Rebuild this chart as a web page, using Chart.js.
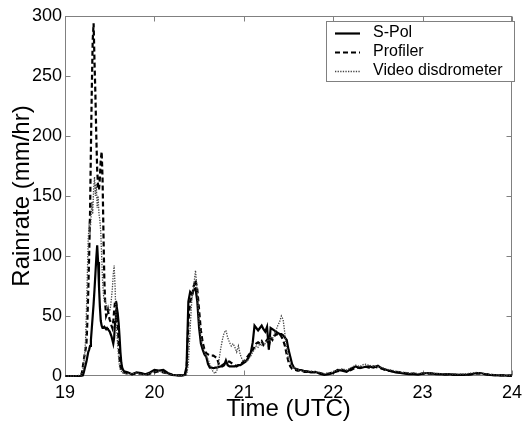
<!DOCTYPE html>
<html>
<head>
<meta charset="utf-8">
<script src="https://cdn.jsdelivr.net/npm/chart.js@4.4.0/dist/chart.umd.min.js"></script>
<style>
html,body{margin:0;padding:0;background:#fff;}
canvas{display:block;}
</style>
</head>
<body>
<canvas id="c" width="528" height="423"></canvas>
<script>
// ---- data (time in UTC hours) ----
const times = [
19.00,19.05,19.10,19.15,
19.18,19.19,19.20,19.21,19.22,19.23,19.24,19.25,19.26,19.27,
19.28,19.29,19.30,19.31,19.32,19.33,19.34,19.35,19.36,19.37,
19.38,19.39,19.40,19.41,19.42,19.43,19.44,19.45,19.46,19.47,
19.48,19.49,19.50,19.51,19.52,19.53,19.54,19.55,19.56,19.57,
19.58,19.59,19.60,19.61,19.62,19.63,19.64,19.65,19.66,
19.70,19.75,19.80,19.85,19.90,19.95,20.00,20.05,20.10,20.15,20.20,20.25,20.30,
20.32,20.34,20.36,20.38,20.40,20.42,20.44,20.46,20.48,20.50,
20.52,20.54,20.56,20.58,20.60,20.62,20.64,20.66,20.68,20.70,
20.72,20.74,20.76,20.78,20.80,20.82,20.84,20.86,20.88,20.90,
20.92,20.94,20.96,20.98,21.00,21.02,21.04,21.06,21.08,21.10,
21.12,21.14,21.16,21.18,21.20,21.22,21.24,21.26,21.28,21.30,
21.32,21.34,21.36,21.38,21.40,21.42,21.44,21.46,21.48,21.50,
21.52,21.54,21.56,21.58,21.60,21.62,21.64,21.66,21.68,21.70,
21.75,21.80,21.85,21.90,21.95,22.00,22.05,22.10,22.15,22.20,
22.25,22.30,22.35,22.40,22.45,22.50,22.55,22.60,22.65,22.70,
22.75,22.80,22.85,22.90,22.95,23.00,23.05,23.10,23.15,23.20,
23.25,23.30,23.35,23.40,23.45,23.50,23.55,23.60,23.65,23.70,
23.75,23.80,23.85,23.90,23.95,24.00
];

const spol = [
0,0,0,0,
0,0,0.5,3,6,9,12,16,20,22,
25,30,40,50,60,72,85,98,109,95,
75,58,46,42,40,40,41,40,39,40,
39,38,37,35,33,30,27,32,45,54,
57,52,44,33,20,11,7,5,4,
3,1.5,3,2.5,1.5,3,5,4.5,5,2.5,1,0.5,0.5,
0.5,1,8,62,70,68,72,73,62,40,
27,22,18,16,10,7,7,6.5,7,7,
7.5,8,8,9,13,9,8,8,8,8,
8.5,9,9,10,11,12,14,16,20,28,
42,40,38,40,42,39,37,41,22,40,
39,38,37,36,35,35,34,32,30,22,
16,10,7,6,5.5,5,5,4.5,4,4,
3,3.5,2,1,1.5,2.5,5,4.5,3.5,6,
8,6.5,7.5,8,7,8.5,6,5,4,3,
2.5,2,1.5,1.5,1.2,2,2.5,2.2,1.5,1.5,
1.2,1.5,1,1,1,1.2,1.5,2.5,2.5,1.5,
1,0.8,0.5,0.5,0.3,0.3
];

const profiler = [
0,0,0,0,
1,3,8,13,18,22,27,45,70,100,
135,190,240,280,294,262,235,200,172,158,
155,165,180,187,165,120,80,60,50,52,
55,50,47,45,42,40,45,55,62,63,
55,42,28,15,8,5,4,3,3,
2,1.5,2,2,1,2,3,4,3,2,1,0.5,0.5,
0.5,1,5,45,62,66,75,80,72,55,
38,28,22,19,18,17,17,17,16,15,
10,8,9,10,11,12,12,11,10,9,
8,9,10,11,12,14,16,18,20,22,
24,27,28,27,29,26,28,30,25,32,
30,33,35,34,35,33,30,25,18,12,
8,6,5,5,4.5,4.5,4,4,3.5,3.5,
3.5,3,2.5,1.5,2,3,4,5,4,5,
7,7,8,7,8,7,6,4.5,4,3.5,
3,2.5,2,2,1.5,2,2,2,1.8,1.5,
1.5,1.2,1.2,1,1,1,1.5,2,2,1.5,
1,0.8,0.6,0.5,0.4,0.3
];

const video = [
0,0,0,0.5,
0,2,5,10,18,30,55,85,115,125,
120,130,145,135,155,166,150,160,140,150,
135,130,120,100,80,68,62,63,60,57,
56,55,54,58,65,73,85,92,75,50,
36,25,15,8,5,4,3,3,2,
2,2,2.5,1.5,1,2.5,3.5,4,3,1.5,1,0.5,0.5,
0.5,0.5,1,10,40,65,75,88,70,45,
33,25,20,16,14,10,6,3,2,5,
12,22,30,36,38,32,28,25,27,24,
20,25,18,14,12,13,12,15,17,20,
22,25,24,27,25,28,27,30,29,33,
31,35,38,42,45,50,47,35,22,14,
10,8,7,6,5,5,4.5,4,4,4,
4,3.5,3,2,2.5,3.5,5,6,5,7,
9,8,10,9,8,8,7,5.5,5,4,
3.5,3,2.5,2.5,2,2.5,2.5,2.5,2,2,
1.8,1.8,1.5,1.5,1.5,2,2.5,3,2.5,2,
1.5,1,0.8,0.6,0.5,0.4
];

const seriesLabels = ['S-Pol', 'Profiler', 'Video disdrometer'];
const xTickValues = [19, 20, 21, 22, 23, 24];
const yTickValues = [0, 50, 100, 150, 200, 250, 300];

// ---- chart ----
const FONT = "'Liberation Sans', Arial, Helvetica, sans-serif";
Chart.defaults.font.family = FONT;
Chart.defaults.color = '#000';

const toPts = arr => arr.map((v, i) => ({x: times[i], y: v}));

const framePlugin = {
  id: 'frame',
  beforeDatasetsDraw(chart) {
    const {ctx, chartArea: a, scales: {x, y}} = chart;
    ctx.save();
    ctx.strokeStyle = '#808080';
    ctx.lineWidth = 1;
    const L = Math.round(a.left) + 0.5, R = Math.round(a.right) - 0.5;
    const T = Math.round(a.top) + 0.5, B = Math.round(a.bottom) - 0.5;
    ctx.strokeRect(L, T, R - L, B - T);
    ctx.beginPath();
    const tl = 5;
    xTickValues.forEach(v => {
      const px = Math.round(x.getPixelForValue(v)) + 0.5;
      ctx.moveTo(px, B); ctx.lineTo(px, B - tl);
      ctx.moveTo(px, T); ctx.lineTo(px, T + tl);
    });
    yTickValues.forEach(v => {
      const py = Math.round(y.getPixelForValue(v)) + 0.5;
      ctx.moveTo(L, py); ctx.lineTo(L + tl, py);
      ctx.moveTo(R, py); ctx.lineTo(R - tl, py);
    });
    ctx.stroke();
    ctx.restore();
  }
};

const legendPlugin = {
  id: 'boxLegend',
  afterDatasetsDraw(chart) {
    const {ctx} = chart;
    const bx = 326.5, by = 21.5, bw = 188, bh = 60;
    ctx.save();
    ctx.fillStyle = '#fff';
    ctx.fillRect(bx, by, bw, bh);
    ctx.strokeStyle = '#808080';
    ctx.lineWidth = 1;
    ctx.strokeRect(bx, by, bw, bh);
    ctx.font = '16px ' + FONT;
    ctx.textBaseline = 'middle';
    ctx.textAlign = 'left';
    chart.data.datasets.forEach((ds, i) => {
      const cy = 33 + i * 19;
      ctx.save();
      ctx.strokeStyle = ds.borderColor;
      ctx.lineWidth = ds.borderWidth;
      ctx.setLineDash(ds.borderDash || []);
      ctx.beginPath();
      ctx.moveTo(335, cy + 0.5);
      ctx.lineTo(360, cy + 0.5);
      ctx.stroke();
      ctx.restore();
      ctx.fillStyle = '#000';
      ctx.fillText(ds.label, 373, cy);
    });
    ctx.restore();
  }
};

new Chart(document.getElementById('c'), {
  type: 'line',
  data: {
    datasets: [
      {label: seriesLabels[0], data: toPts(spol), borderColor: '#000', borderWidth: 2.2,
       pointRadius: 0, tension: 0, fill: false, clip: 4, order: 2},
      {label: seriesLabels[1], data: toPts(profiler), borderColor: '#000', borderWidth: 2.2,
       borderDash: [5, 3], pointRadius: 0, tension: 0, fill: false, clip: 4, order: 1},
      {label: seriesLabels[2], data: toPts(video), borderColor: '#444', borderWidth: 1.3,
       borderDash: [1.3, 1.3], pointRadius: 0, tension: 0, fill: false, clip: 4, order: 0}
    ]
  },
  options: {
    responsive: false,
    animation: false,
    devicePixelRatio: 1,
    layout: {padding: {top: 16, right: 6, left: 0, bottom: 0}},
    plugins: {legend: {display: false}, tooltip: {enabled: false}},
    scales: {
      x: {
        type: 'linear', min: 19, max: 24,
        afterBuildTicks: s => { s.ticks = xTickValues.map(v => ({value: v})); },
        afterFit: s => { s.height = 47; },
        ticks: {font: {size: 18}, color: '#000', padding: 6, autoSkip: false, maxRotation: 0},
        grid: {display: false, drawTicks: false},
        border: {display: false},
        title: {display: true, text: 'Time (UTC)', font: {size: 24}, color: '#000', padding: {top: 0, bottom: -1}}
      },
      y: {
        type: 'linear', min: 0, max: 300,
        afterBuildTicks: s => { s.ticks = yTickValues.map(v => ({value: v})); },
        afterFit: s => { s.width = 65; },
        ticks: {font: {size: 18}, color: '#000', padding: 3, autoSkip: false},
        grid: {display: false, drawTicks: false},
        border: {display: false},
        title: {display: true, text: 'Rainrate (mm/hr)', font: {size: 24}, color: '#000', padding: {top: 8, bottom: 0}}
      }
    }
  },
  plugins: [framePlugin, legendPlugin]
});
</script>
</body>
</html>
